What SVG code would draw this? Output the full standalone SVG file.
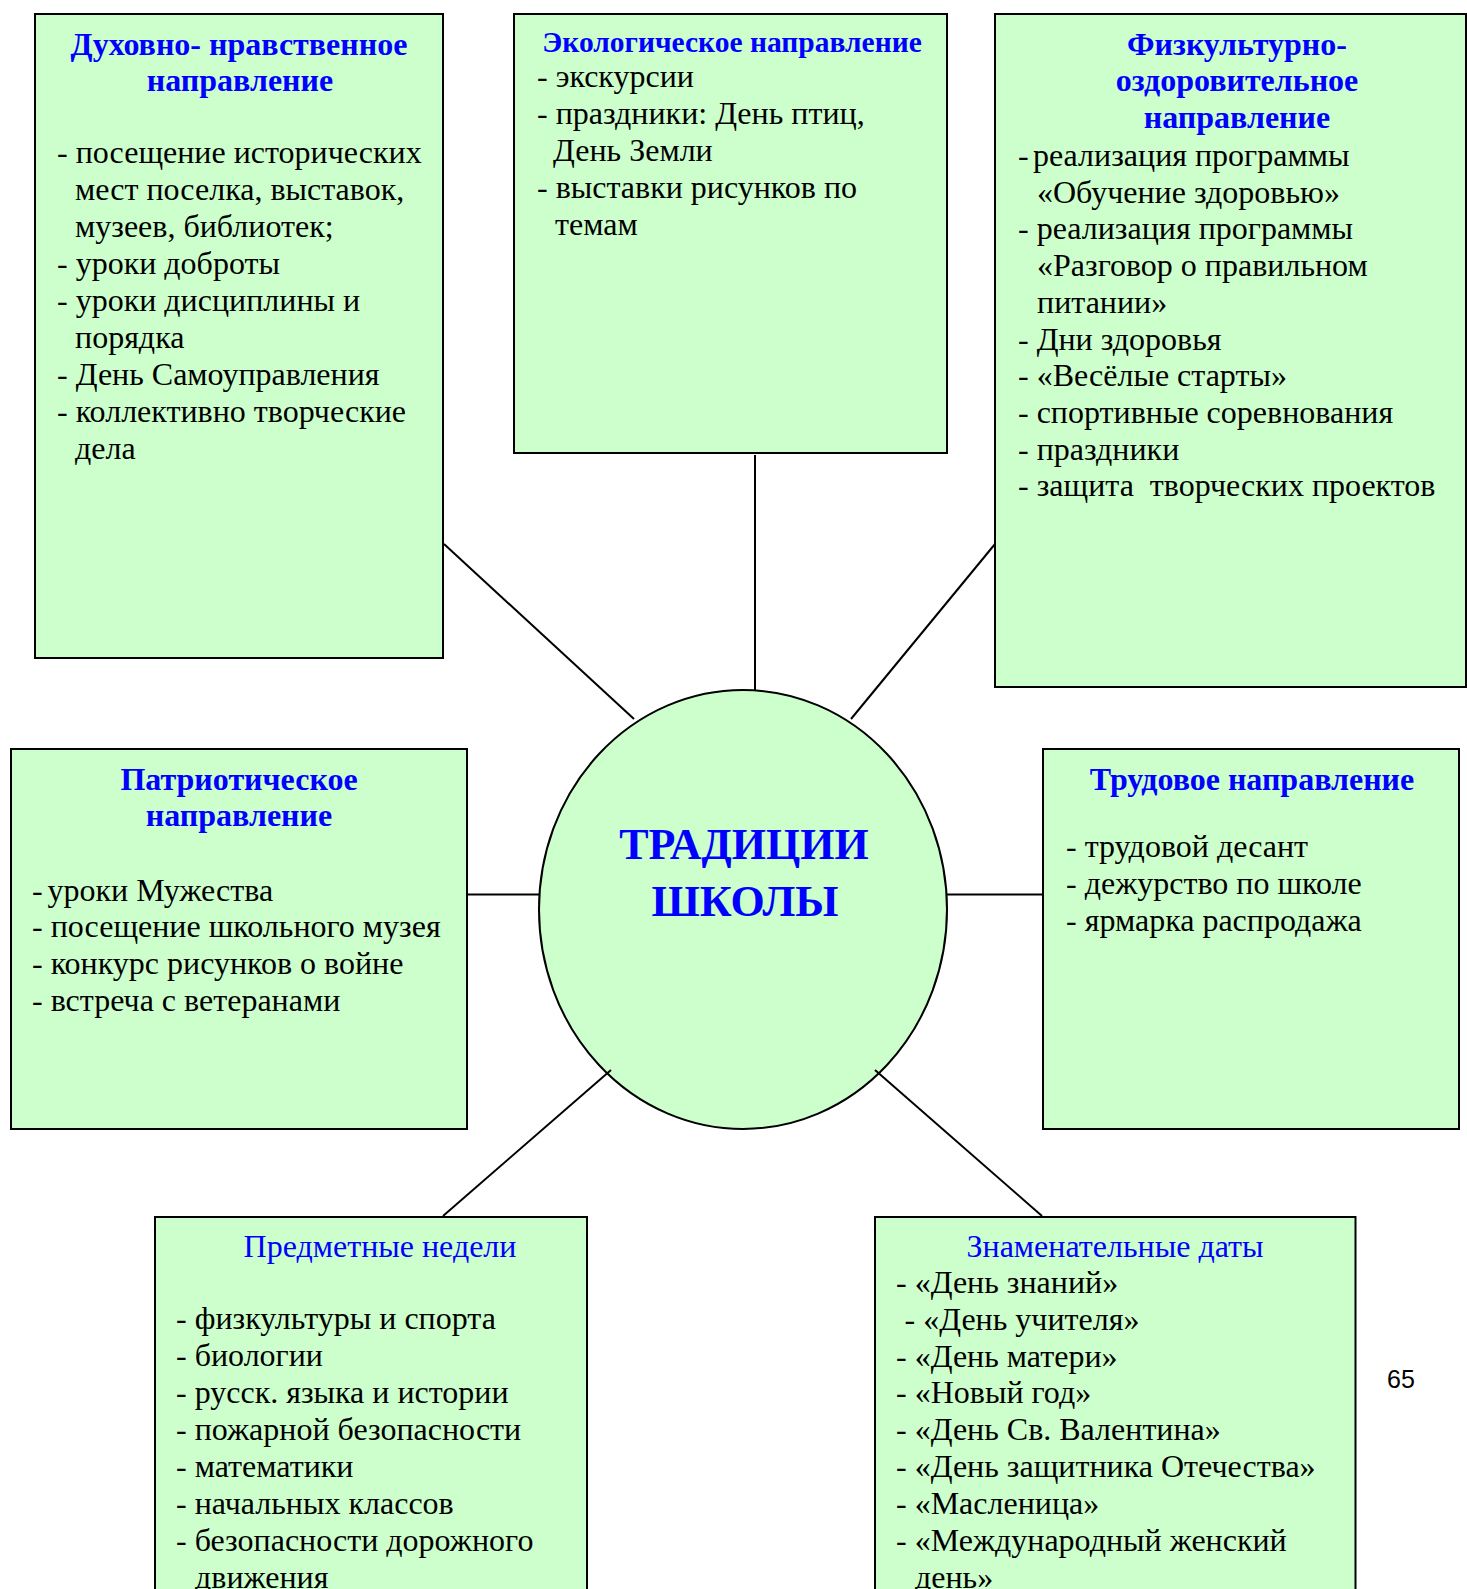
<svg xmlns="http://www.w3.org/2000/svg" width="1467" height="1589" viewBox="0 0 1467 1589">
<style>
.box{fill:#CCFFCC;stroke:#000;stroke-width:2}
.t{font-family:"Liberation Serif","Times New Roman",serif;font-size:32px;fill:#000}
.h{font-family:"Liberation Serif","Times New Roman",serif;font-size:32px;font-weight:bold;fill:#0000FF;text-anchor:middle}
.hr{font-family:"Liberation Serif","Times New Roman",serif;font-size:32px;fill:#0000FF;text-anchor:middle}
.c{font-family:"Liberation Serif","Times New Roman",serif;font-size:44px;font-weight:bold;fill:#0000FF;text-anchor:middle}
.ln{stroke:#000;stroke-width:2;fill:none}
</style>
<rect width="1467" height="1589" fill="#fff"/>
<g id="node-center">
<ellipse class="box" cx="743" cy="909.5" rx="204" ry="219.5"/>
<text class="c" x="744" y="859">ТРАДИЦИИ</text>
<text class="c" x="745" y="916">ШКОЛЫ</text>
</g>
<g id="connectors">
<line class="ln" x1="444" y1="544" x2="634" y2="719"/>
<line class="ln" x1="755" y1="455" x2="755" y2="690"/>
<line class="ln" x1="995" y1="544" x2="851" y2="719"/>
<line class="ln" x1="467" y1="894.5" x2="539" y2="894.5"/>
<line class="ln" x1="947" y1="894.5" x2="1043" y2="894.5"/>
<line class="ln" x1="611" y1="1070" x2="443" y2="1216"/>
<line class="ln" x1="875" y1="1070" x2="1042" y2="1216"/>
</g>
<g id="node-spiritual">
<rect class="box" x="35" y="14" width="408" height="644"/>
<text class="h" x="239" y="55">Духовно- нравственное</text>
<text class="h" x="240" y="91">направление</text>
<text class="t" x="57" y="163">- посещение исторических</text>
<text class="t" x="75" y="200">мест поселка, выставок,</text>
<text class="t" x="75" y="237">музеев, библиотек;</text>
<text class="t" x="57" y="274">- уроки доброты</text>
<text class="t" x="57" y="311">- уроки дисциплины и</text>
<text class="t" x="75" y="348">порядка</text>
<text class="t" x="57" y="385">- День Самоуправления</text>
<text class="t" x="57" y="422">- коллективно творческие</text>
<text class="t" x="75" y="459">дела</text>
</g>
<g id="node-ecology">
<rect class="box" x="514" y="14" width="433" height="439"/>
<text class="h" x="732" y="52" style="font-size:29.5px">Экологическое направление</text>
<text class="t" x="537" y="87">- экскурсии</text>
<text class="t" x="537" y="124">- праздники: День птиц,</text>
<text class="t" x="553" y="161">День Земли</text>
<text class="t" x="537" y="198">- выставки рисунков по</text>
<text class="t" x="555" y="235">темам</text>
</g>
<g id="node-sport">
<rect class="box" x="995" y="14" width="471" height="673"/>
<text class="h" x="1237" y="54.5">Физкультурно-</text>
<text class="h" x="1237" y="91">оздоровительное</text>
<text class="h" x="1237" y="128">направление</text>
<text class="t" y="166"><tspan x="1018">-</tspan><tspan x="1033">реализация программы</tspan></text>
<text class="t" x="1037" y="202.7">«Обучение здоровью»</text>
<text class="t" x="1018" y="239.4">- реализация программы</text>
<text class="t" x="1037" y="276.1">«Разговор о правильном</text>
<text class="t" x="1037" y="312.8">питании»</text>
<text class="t" x="1018" y="349.5">- Дни здоровья</text>
<text class="t" x="1018" y="386.2">- «Весёлые старты»</text>
<text class="t" x="1018" y="422.9">- спортивные соревнования</text>
<text class="t" x="1018" y="459.6">- праздники</text>
<text class="t" x="1018" y="496.3" xml:space="preserve">- защита  творческих проектов</text>
</g>
<g id="node-patriotic">
<rect class="box" x="11" y="749" width="456" height="380"/>
<text class="h" x="239" y="790">Патриотическое</text>
<text class="h" x="239" y="826">направление</text>
<text class="t" y="900.5"><tspan x="32">-</tspan><tspan x="47.5">уроки Мужества</tspan></text>
<text class="t" x="32" y="937.3">- посещение школьного музея</text>
<text class="t" x="32" y="974.1">- конкурс рисунков о войне</text>
<text class="t" x="32" y="1010.9">- встреча с ветеранами</text>
</g>
<g id="node-labour">
<rect class="box" x="1043" y="749" width="416" height="380"/>
<text class="h" x="1252" y="790">Трудовое направление</text>
<text class="t" x="1066" y="857">- трудовой десант</text>
<text class="t" x="1066" y="894">- дежурство по школе</text>
<text class="t" x="1066" y="931">- ярмарка распродажа</text>
</g>
<g id="node-subjects">
<rect class="box" x="155" y="1217" width="432" height="400"/>
<text class="hr" x="380" y="1257">Предметные недели</text>
<text class="t" x="176" y="1329">- физкультуры и спорта</text>
<text class="t" x="176" y="1366">- биологии</text>
<text class="t" x="176" y="1403">- русск. языка и истории</text>
<text class="t" x="176" y="1440">- пожарной безопасности</text>
<text class="t" x="176" y="1477">- математики</text>
<text class="t" x="176" y="1514">- начальных классов</text>
<text class="t" x="176" y="1551">- безопасности дорожного</text>
<text class="t" x="195" y="1588">движения</text>
</g>
<g id="node-dates">
<rect class="box" x="875" y="1217" width="480.5" height="400"/>
<text class="hr" x="1115" y="1257">Знаменательные даты</text>
<text class="t" x="896" y="1293">- «День знаний»</text>
<text class="t" x="904.5" y="1330">- «День учителя»</text>
<text class="t" x="896" y="1367">- «День матери»</text>
<text class="t" x="896" y="1403">- «Новый год»</text>
<text class="t" x="896" y="1440">- «День Св. Валентина»</text>
<text class="t" x="896" y="1477">- «День защитника Отечества»</text>
<text class="t" x="896" y="1514">- «Масленица»</text>
<text class="t" x="896" y="1551">- «Международный женский</text>
<text class="t" x="915" y="1588">день»</text>
</g>
<text x="1387" y="1388" font-family="'Liberation Sans', Arial, sans-serif" font-size="25">65</text>
</svg>
